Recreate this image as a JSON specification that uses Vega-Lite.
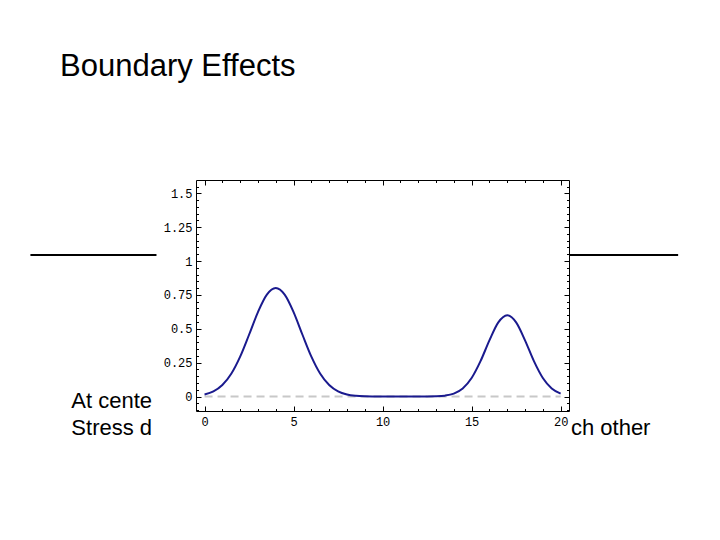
{
  "$schema": "https://vega.github.io/schema/vega-lite/v6.json",
  "description": "Boundary effects slide with stress curve",
  "width": 373,
  "height": 231,
  "autosize": {"type": "none"},
  "padding": {"left": 196, "top": 180, "right": 151, "bottom": 129},
  "background": "white",
  "title": {
    "text": "Boundary Effects",
    "anchor": "start",
    "frame": "group",
    "dx": -136,
    "offset": 73,
    "baseline": "alphabetic",
    "font": "Liberation Sans",
    "fontSize": 31,
    "fontWeight": "normal",
    "color": "black"
  },
  "config": {
    "view": {"stroke": "black", "strokeWidth": 1},
    "axis": {
      "domain": false,
      "grid": false,
      "title": null,
      "labelFont": "Liberation Mono",
      "labelFontSize": 12,
      "labelColor": "black",
      "tickColor": "black",
      "tickWidth": 1,
      "labelOverlap": false,
      "labelFlush": false,
      "labelBound": false
    }
  },
  "datasets": {
    "curve": [
      {"x": 0, "y": 0.0147}, {"x": 0.5, "y": 0.0374}, {"x": 1, "y": 0.0843},
      {"x": 1.5, "y": 0.1677}, {"x": 2, "y": 0.2943}, {"x": 2.5, "y": 0.4558},
      {"x": 3, "y": 0.623}, {"x": 3.5, "y": 0.7515}, {"x": 4, "y": 0.8},
      {"x": 4.5, "y": 0.7515}, {"x": 5, "y": 0.623}, {"x": 5.5, "y": 0.4558},
      {"x": 6, "y": 0.2943}, {"x": 6.5, "y": 0.1677}, {"x": 7, "y": 0.0843},
      {"x": 7.5, "y": 0.0374}, {"x": 8, "y": 0.0147}, {"x": 8.5, "y": 0.0051},
      {"x": 9, "y": 0.0015}, {"x": 9.5, "y": 0.0004}, {"x": 10, "y": 0},
      {"x": 10.5, "y": 0}, {"x": 11, "y": 0}, {"x": 11.5, "y": 0},
      {"x": 12, "y": 0}, {"x": 12.5, "y": 0.0003}, {"x": 13, "y": 0.0016},
      {"x": 13.5, "y": 0.0064}, {"x": 14, "y": 0.0214}, {"x": 14.5, "y": 0.0593},
      {"x": 15, "y": 0.1364}, {"x": 15.5, "y": 0.2608}, {"x": 16, "y": 0.4143},
      {"x": 16.5, "y": 0.547}, {"x": 17, "y": 0.6}, {"x": 17.5, "y": 0.547},
      {"x": 18, "y": 0.4143}, {"x": 18.5, "y": 0.2608}, {"x": 19, "y": 0.1364},
      {"x": 19.5, "y": 0.0593}, {"x": 20, "y": 0.0214}
    ],
    "one": [{}]
  },
  "layer": [
    {
      "data": {"name": "one"},
      "mark": {"type": "rule", "color": "#c8c8c8", "strokeWidth": 2, "strokeDash": [8, 5]},
      "encoding": {
        "x": {
          "datum": 0,
          "type": "quantitative",
          "scale": {"domain": [-0.48, 20.47], "nice": false, "zero": false},
          "axis": {"orient": "bottom", "values": [0,1,2,3,4,5,6,7,8,9,10,11,12,13,14,15,16,17,18,19,20], "tickSize": -2.5, "labels": false, "title": null}
        },
        "x2": {"datum": 20},
        "y": {
          "datum": 0,
          "type": "quantitative",
          "scale": {"domain": [-0.107, 1.598], "nice": false, "zero": false},
          "axis": {"orient": "left", "values": [-0.1,-0.05,0,0.05,0.1,0.15,0.2,0.25,0.3,0.35,0.4,0.45,0.5,0.55,0.6,0.65,0.7,0.75,0.8,0.85,0.9,0.95,1,1.05,1.1,1.15,1.2,1.25,1.3,1.35,1.4,1.45,1.5,1.55], "tickSize": -2.5, "labels": false, "title": null}
        }
      }
    },
    {
      "data": {"name": "curve"},
      "mark": {"type": "line", "color": "#1a1a8e", "strokeWidth": 2, "interpolate": "monotone"},
      "encoding": {
        "x": {
          "field": "x",
          "type": "quantitative",
          "scale": {"domain": [-0.48, 20.47], "nice": false, "zero": false},
          "axis": {"orient": "bottom", "values": [0, 5, 10, 15, 20], "format": "d", "tickSize": -5, "labelPadding": 10, "title": null}
        },
        "y": {
          "field": "y",
          "type": "quantitative",
          "scale": {"domain": [-0.107, 1.598], "nice": false, "zero": false},
          "axis": {"orient": "left", "values": [0, 0.25, 0.5, 0.75, 1, 1.25, 1.5], "format": ".4~g", "tickSize": -5, "labelPadding": 9, "title": null}
        }
      }
    },
    {
      "data": {"name": "one"},
      "mark": {"type": "rule", "color": "black", "strokeWidth": 2},
      "encoding": {
        "x": {
          "datum": -9.78,
          "type": "quantitative",
          "scale": {"domain": [-0.48, 20.47], "nice": false, "zero": false},
          "axis": {"orient": "top", "values": [0,1,2,3,4,5,6,7,8,9,10,11,12,13,14,15,16,17,18,19,20], "tickSize": -2.5, "labels": false, "title": null}
        },
        "x2": {"datum": -2.7},
        "y": {
          "datum": 1.044,
          "type": "quantitative",
          "scale": {"domain": [-0.107, 1.598], "nice": false, "zero": false},
          "axis": {"orient": "right", "values": [-0.1,-0.05,0,0.05,0.1,0.15,0.2,0.25,0.3,0.35,0.4,0.45,0.5,0.55,0.6,0.65,0.7,0.75,0.8,0.85,0.9,0.95,1,1.05,1.1,1.15,1.2,1.25,1.3,1.35,1.4,1.45,1.5,1.55], "tickSize": -2.5, "labels": false, "title": null}
        }
      }
    },
    {
      "data": {"name": "one"},
      "mark": {"type": "rule", "color": "black", "strokeWidth": 2},
      "encoding": {
        "x": {
          "datum": 20.47,
          "type": "quantitative",
          "scale": {"domain": [-0.48, 20.47], "nice": false, "zero": false},
          "axis": {"orient": "top", "values": [0, 5, 10, 15, 20], "tickSize": -5, "labels": false, "title": null}
        },
        "x2": {"datum": 26.6},
        "y": {
          "datum": 1.044,
          "type": "quantitative",
          "scale": {"domain": [-0.107, 1.598], "nice": false, "zero": false},
          "axis": {"orient": "right", "values": [0, 0.25, 0.5, 0.75, 1, 1.25, 1.5], "tickSize": -5, "labels": false, "title": null}
        }
      }
    },
    {
      "data": {"name": "one"},
      "mark": {"type": "text", "text": "At cente", "font": "Liberation Sans", "fontSize": 22, "align": "left", "baseline": "alphabetic", "color": "black"},
      "encoding": {
        "x": {"datum": -7.48, "type": "quantitative", "scale": {"domain": [-0.48, 20.47], "nice": false, "zero": false}, "axis": null},
        "y": {"datum": -0.087, "type": "quantitative", "scale": {"domain": [-0.107, 1.598], "nice": false, "zero": false}, "axis": null}
      }
    },
    {
      "data": {"name": "one"},
      "mark": {"type": "text", "text": "Stress d", "font": "Liberation Sans", "fontSize": 22, "align": "left", "baseline": "alphabetic", "color": "black"},
      "encoding": {
        "x": {"datum": -7.48, "type": "quantitative", "scale": {"domain": [-0.48, 20.47], "nice": false, "zero": false}, "axis": null},
        "y": {"datum": -0.284, "type": "quantitative", "scale": {"domain": [-0.107, 1.598], "nice": false, "zero": false}, "axis": null}
      }
    },
    {
      "data": {"name": "one"},
      "mark": {"type": "text", "text": "ch other", "font": "Liberation Sans", "fontSize": 22, "align": "left", "baseline": "alphabetic", "color": "black"},
      "encoding": {
        "x": {"datum": 20.58, "type": "quantitative", "scale": {"domain": [-0.48, 20.47], "nice": false, "zero": false}, "axis": null},
        "y": {"datum": -0.284, "type": "quantitative", "scale": {"domain": [-0.107, 1.598], "nice": false, "zero": false}, "axis": null}
      }
    }
  ],
  "resolve": {"axis": {"x": "independent", "y": "independent"}}
}
